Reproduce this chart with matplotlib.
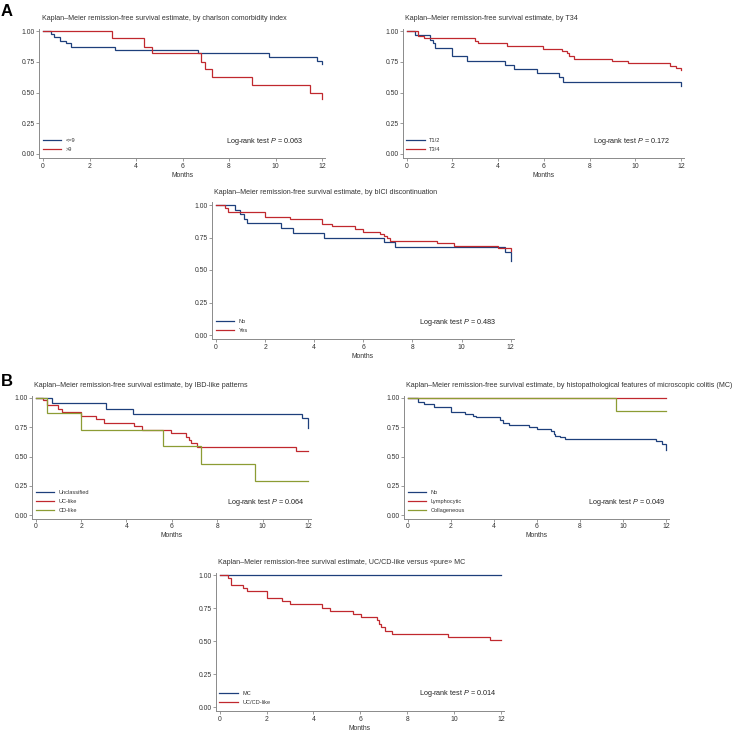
import matplotlib
matplotlib.use("Agg")
import matplotlib.pyplot as plt

plt.rcParams['font.family'] = ['Liberation Sans', 'DejaVu Sans']
plt.rcParams['mathtext.fontset'] = 'custom'
plt.rcParams['mathtext.rm'] = 'Liberation Sans'
plt.rcParams['mathtext.it'] = 'Liberation Sans:italic'

# ---------------- data ----------------
# A1: Charlson comorbidity index
cci_le9_t = [0, 0.36, 0.47, 0.72, 1.0, 1.22, 3.09, 6.68, 9.7, 11.78, 12]
cci_le9_s = [1, 0.976, 0.95, 0.92, 0.90, 0.867, 0.843, 0.82, 0.786, 0.76, 0.735]
cci_gt9_t = [0, 2.97, 4.35, 4.7, 6.8, 6.95, 7.28, 9.0, 11.5, 12]
cci_gt9_s = [1, 0.94, 0.873, 0.818, 0.75, 0.69, 0.623, 0.56, 0.50, 0.445]

# A2: T34
t12_t = [0, 0.36, 1.02, 1.14, 1.25, 2.0, 2.62, 4.31, 4.69, 5.69, 6.68, 6.85, 12]
t12_s = [1, 0.965, 0.93, 0.90, 0.862, 0.794, 0.76, 0.724, 0.69, 0.656, 0.623, 0.588, 0.553]
t34_t = [0, 0.51, 0.77, 3.0, 3.13, 4.37, 5.98, 6.81, 7.0, 7.1, 7.32, 9.0, 9.69, 11.5, 11.78, 12]
t34_s = [1, 0.962, 0.94, 0.92, 0.90, 0.88, 0.856, 0.837, 0.818, 0.80, 0.775, 0.756, 0.737, 0.715, 0.697, 0.68]

# A3: bICI discontinuation
bici_no_t = [0, 0.77, 0.98, 1.15, 1.26, 2.65, 3.14, 4.38, 6.83, 7.3, 11.77, 12]
bici_no_s = [1, 0.964, 0.928, 0.89, 0.86, 0.82, 0.787, 0.75, 0.713, 0.677, 0.64, 0.57]
bici_yes_t = [0, 0.37, 0.5, 2.0, 3.0, 4.3, 4.71, 5.66, 6.0, 6.68, 6.85, 6.96, 7.09, 9.01, 9.7, 11.5, 12]
bici_yes_s = [1, 0.98, 0.946, 0.91, 0.89, 0.854, 0.836, 0.815, 0.795, 0.78, 0.762, 0.744, 0.723, 0.705, 0.685, 0.667, 0.65]

# B1: IBD-like patterns
uncl_t = [0, 0.73, 3.12, 4.3, 11.75, 12]
uncl_s = [1, 0.954, 0.91, 0.866, 0.826, 0.74]
uc_t = [0, 0.34, 0.48, 1.0, 1.14, 1.99, 2.64, 2.99, 4.34, 4.7, 5.97, 6.62, 6.75, 6.84, 7.09, 11.46, 12]
uc_s = [1, 0.98, 0.94, 0.91, 0.88, 0.85, 0.818, 0.79, 0.758, 0.727, 0.698, 0.67, 0.64, 0.613, 0.58, 0.544, 0.544]
cd_t = [0, 0.48, 2.0, 5.63, 7.28, 9.68, 12]
cd_s = [1, 0.875, 0.73, 0.587, 0.44, 0.293, 0.293]

# B2: histopathological features of MC
mc_no_t = [0, 0.49, 0.76, 1.24, 1.99, 2.64, 3.05, 3.17, 4.31, 4.41, 4.72, 5.64, 6.01, 6.68, 6.8, 6.84, 7.07, 7.3, 11.52, 11.81, 12]
mc_no_s = [1, 0.966, 0.95, 0.923, 0.883, 0.866, 0.846, 0.835, 0.81, 0.783, 0.766, 0.752, 0.732, 0.715, 0.695, 0.678, 0.667, 0.65, 0.63, 0.607, 0.556]
lymph_t = [0, 12]
lymph_s = [1, 1]
coll_t = [0, 9.7, 12]
coll_s = [1, 0.889, 0.889]

# B3: UC/CD-like vs pure MC
pure_mc_t = [0, 12]
pure_mc_s = [1, 1]
uccd_t = [0, 0.34, 0.48, 1.0, 1.15, 2.02, 2.64, 3.0, 4.38, 4.7, 5.67, 6.01, 6.7, 6.81, 6.88, 7.05, 7.34, 9.73, 11.53, 12]
uccd_s = [1, 0.977, 0.93, 0.907, 0.88, 0.83, 0.806, 0.78, 0.755, 0.73, 0.705, 0.68, 0.657, 0.63, 0.606, 0.58, 0.556, 0.533, 0.505, 0.505]

x_ticks = [0, 2, 4, 6, 8, 10, 12]
y_ticks = [0.0, 0.25, 0.5, 0.75, 1.0]
y_ticklabels = ["0.00", "0.25", "0.50", "0.75", "1.00"]

BLUE = "#1d3f7b"
RED = "#c0282e"
GREEN = "#8c9c34"

panels = [
    dict(px=(43, 322, 31, 154),
         title="Kaplan\u2013Meier remission-free survival estimate, by charlson comorbidity index",
         series=[(cci_le9_t, cci_le9_s, BLUE, "<=9"), (cci_gt9_t, cci_gt9_s, RED, ">9")],
         p="0.063", ptxt=(11.2, 0.105), leg=(0.008, 0.035)),
    dict(px=(406.7, 681, 31, 154),
         title="Kaplan\u2013Meier remission-free survival estimate, by T34",
         series=[(t12_t, t12_s, BLUE, "T1/2"), (t34_t, t34_s, RED, "T3/4")],
         p="0.172", ptxt=(11.52, 0.105), leg=(0.008, 0.035)),
    dict(px=(216, 510.7, 205, 335),
         title="Kaplan\u2013Meier remission-free survival estimate, by bICI discontinuation",
         series=[(bici_no_t, bici_no_s, BLUE, "No"), (bici_yes_t, bici_yes_s, RED, "Yes")],
         p="0.483", ptxt=(11.39, 0.095), leg=(0.008, 0.035)),
    dict(px=(35.7, 308, 398, 515),
         title="Kaplan\u2013Meier remission-free survival estimate, by IBD-like patterns",
         series=[(uncl_t, uncl_s, BLUE, "Unclassified"), (uc_t, uc_s, RED, "UC-like"),
                 (cd_t, cd_s, GREEN, "CD-like")],
         p="0.064", ptxt=(11.82, 0.108), leg=(0.01, 0.035)),
    dict(px=(407.7, 666, 398, 515),
         title="Kaplan\u2013Meier remission-free survival estimate, by histopathological features of microscopic colitis (MC)",
         series=[(mc_no_t, mc_no_s, BLUE, "No"), (lymph_t, lymph_s, RED, "Lymphocytic"),
                 (coll_t, coll_s, GREEN, "Collageneous")],
         p="0.049", ptxt=(11.98, 0.108), leg=(0.01, 0.035)),
    dict(px=(219.7, 501, 575.3, 707),
         title="Kaplan\u2013Meier remission-free survival estimate, UC/CD-like versus \u00abpure\u00bb MC",
         series=[(pure_mc_t, pure_mc_s, BLUE, "MC"), (uccd_t, uccd_s, RED, "UC/CD-like")],
         p="0.014", ptxt=(11.79, 0.099), leg=(0.008, 0.035)),
]

W, H = 738, 733
fig = plt.figure(figsize=(W / 100, H / 100), dpi=100)
XL = (-0.16, 12.13)
YL = (-0.033, 1.02)

for pn in panels:
    px0, px12, py1, py0 = pn["px"]
    sx = (px12 - px0) / 12.0
    sy = (py0 - py1)
    left = px0 + XL[0] * sx
    right = px0 + XL[1] * sx
    bot = py0 - YL[0] * sy
    top = py0 - YL[1] * sy
    ax = fig.add_axes([left / W, (H - bot) / H, (right - left) / W, (bot - top) / H])
    ax.set_xlim(*XL)
    ax.set_ylim(*YL)
    for t, s, c, lab in pn["series"]:
        ax.step(t, s, where="post", color=c, lw=0.9, label=lab, solid_joinstyle="miter")
    ax.set_xticks(x_ticks)
    ax.set_yticks(y_ticks)
    ax.set_yticklabels(y_ticklabels)
    for sp in ["top", "right"]:
        ax.spines[sp].set_visible(False)
    for sp in ["left", "bottom"]:
        ax.spines[sp].set_color("#8a8a8a")
        ax.spines[sp].set_linewidth(0.7)
    ax.tick_params(axis="both", labelsize=4.9, colors="#8a8a8a", labelcolor="#333333",
                   length=2.0, width=0.6, pad=1.2)
    ax.set_xlabel("Months", fontsize=4.9, color="#333333", labelpad=1.5)
    ax.text(pn["ptxt"][0], pn["ptxt"][1], r"Log-rank test $\it{P}$ = " + pn["p"],
            ha="right", va="center", fontsize=5.25, color="#222222")
    leg = ax.legend(loc="lower left", bbox_to_anchor=pn["leg"], frameon=False,
                    fontsize=4.1, handlelength=3.2, handletextpad=0.8,
                    labelspacing=0.75, borderpad=0.2, borderaxespad=0.0)
    for txt in leg.get_texts():
        txt.set_color("#333333")
    # title
    fig.text((px0 - 1.5) / W, 1 - (py1 - 12.8) / H, pn["title"], ha="left", va="center",
             fontsize=5.15, color="#333333")

fig.text(1 / W, 1 - 11 / H, "A", fontsize=12, fontweight="bold", ha="left", va="center")
fig.text(1 / W, 1 - 382 / H, "B", fontsize=12, fontweight="bold", ha="left", va="center")

fig.savefig("out.png", dpi=100)
